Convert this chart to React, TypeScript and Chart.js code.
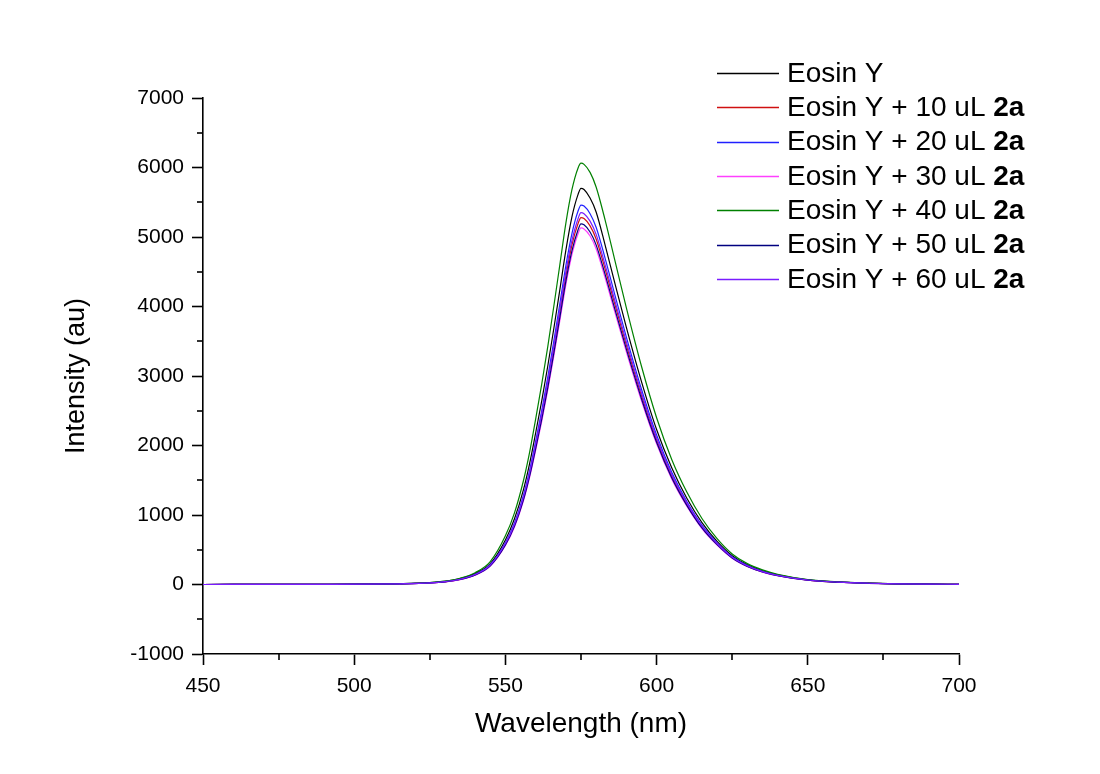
import { useEffect, useRef } from 'react';
import { Chart, registerables } from 'chart.js';
Chart.register(...registerables);

const wavelengths = [450, 470, 490, 505, 515, 525, 530, 535, 540, 545, 550, 553, 556, 558, 560, 562, 564, 566, 568, 570, 572, 574, 575, 576, 578, 580, 583, 586, 590, 595, 600, 605, 610, 615, 620, 625, 630, 635, 640, 650, 660, 670, 680, 690, 700];

const eosinY = [0, 1, 2, 5, 11, 26, 45, 84, 158, 300, 640, 945, 1370, 1740, 2180, 2640, 3140, 3680, 4240, 4810, 5290, 5610, 5700, 5683, 5560, 5360, 4880, 4370, 3700, 2920, 2230, 1680, 1240, 890, 620, 414, 282, 197, 139, 68, 36, 19, 10, 5, 3];
const plus10 = [0, 1, 2, 4, 10, 23, 39, 74, 141, 275, 580, 855, 1245, 1585, 1990, 2415, 2880, 3385, 3910, 4440, 4885, 5190, 5280, 5265, 5160, 4972, 4535, 4062, 3445, 2720, 2082, 1563, 1158, 828, 583, 388, 265, 184, 129, 64, 34, 18, 9, 5, 3];
const plus20 = [0, 1, 2, 4, 10, 24, 41, 77, 146, 285, 600, 885, 1290, 1640, 2060, 2500, 2980, 3500, 4040, 4590, 5050, 5370, 5460, 5445, 5335, 5140, 4690, 4200, 3560, 2810, 2150, 1615, 1195, 855, 600, 398, 273, 189, 133, 66, 35, 18, 9, 5, 3];
const plus30 = [0, 1, 2, 4, 9, 22, 37, 70, 135, 266, 562, 828, 1208, 1540, 1930, 2345, 2795, 3285, 3795, 4315, 4745, 5043, 5130, 5116, 5015, 4832, 4408, 3948, 3348, 2643, 2023, 1519, 1126, 804, 566, 378, 258, 179, 126, 62, 33, 17, 9, 5, 3];
const plus40 = [0, 1, 2, 5, 12, 28, 48, 90, 170, 330, 700, 1030, 1500, 1900, 2380, 2880, 3420, 4000, 4600, 5200, 5680, 5990, 6062, 6045, 5930, 5720, 5240, 4700, 3980, 3140, 2400, 1800, 1330, 950, 660, 440, 300, 210, 148, 72, 38, 20, 10, 5, 3];
const plus50 = [0, 1, 2, 4, 9, 22, 38, 72, 138, 270, 570, 840, 1225, 1560, 1955, 2375, 2830, 3325, 3840, 4365, 4800, 5100, 5190, 5175, 5072, 4887, 4458, 3993, 3386, 2673, 2046, 1536, 1139, 814, 573, 382, 261, 181, 127, 63, 33, 17, 9, 5, 3];
const plus60 = [0, 1, 2, 4, 10, 23, 40, 75, 143, 280, 590, 868, 1265, 1610, 2020, 2450, 2920, 3430, 3960, 4500, 4950, 5260, 5350, 5335, 5228, 5038, 4595, 4115, 3490, 2755, 2108, 1583, 1174, 838, 590, 392, 268, 186, 131, 65, 34, 18, 9, 5, 3];

const seriesLabels = ['Eosin Y', 'Eosin Y + 10 uL ', 'Eosin Y + 20 uL ', 'Eosin Y + 30 uL ', 'Eosin Y + 40 uL ', 'Eosin Y + 50 uL ', 'Eosin Y + 60 uL '];
const boldSuffix = ['', '2a', '2a', '2a', '2a', '2a', '2a'];
const seriesValues = [eosinY, plus10, plus20, plus30, plus40, plus50, plus60];
const seriesColors = ['#000000', '#d01010', '#2020ff', '#ff40ff', '#008000', '#000080', '#7a1cff'];

const xMajorLabels = [450, 500, 550, 600, 650, 700];
const yMajorLabels = [-1000, 0, 1000, 2000, 3000, 4000, 5000, 6000, 7000];
const xMinorTicks = [475, 525, 575, 625, 675];
const yMinorTicks = [-500, 500, 1500, 2500, 3500, 4500, 5500, 6500];

const FONT = "'Liberation Sans', Arial, sans-serif";

const minorTicksPlugin = {
  id: 'minorTicks',
  afterDraw(chart: any) {
    const ctx = chart.ctx;
    const xs = chart.scales.x;
    const ys = chart.scales.y;
    const area = chart.chartArea;
    ctx.save();
    ctx.strokeStyle = '#000';
    ctx.lineWidth = 1.6;
    xMinorTicks.forEach((v) => {
      const px = Math.round(xs.getPixelForValue(v));
      ctx.beginPath();
      ctx.moveTo(px, area.bottom);
      ctx.lineTo(px, area.bottom + 6);
      ctx.stroke();
    });
    yMinorTicks.forEach((v) => {
      const py = Math.round(ys.getPixelForValue(v));
      ctx.beginPath();
      ctx.moveTo(area.left, py);
      ctx.lineTo(area.left - 6, py);
      ctx.stroke();
    });
    ctx.restore();
  },
};

const legendPlugin = {
  id: 'customLegend',
  afterDraw(chart: any) {
    const ctx = chart.ctx;
    ctx.save();
    const lineX0 = 717;
    const lineX1 = 779;
    const textX = 787;
    const rowY0 = 73;
    const rowStep = 34.3;
    chart.data.datasets.forEach((ds: any, i: number) => {
      const y = rowY0 + i * rowStep;
      ctx.strokeStyle = ds.borderColor;
      ctx.lineWidth = 1.3;
      ctx.beginPath();
      ctx.moveTo(lineX0, Math.round(y) + 0.5);
      ctx.lineTo(lineX1, Math.round(y) + 0.5);
      ctx.stroke();
      ctx.fillStyle = '#000';
      ctx.textBaseline = 'middle';
      ctx.font = `28px ${FONT}`;
      ctx.fillText(seriesLabels[i], textX, y + 1);
      const w = ctx.measureText(seriesLabels[i]).width;
      if (boldSuffix[i]) {
        ctx.font = `bold 28px ${FONT}`;
        ctx.fillText(boldSuffix[i], textX + w, y + 1);
      }
    });
    ctx.restore();
  },
};

export default function App() {
  const canvasRef = useRef<HTMLCanvasElement | null>(null);

  useEffect(() => {
    if (!canvasRef.current) return;
    const datasets = seriesValues.map((vals, i) => ({
      label: seriesLabels[i] + boldSuffix[i],
      data: wavelengths.map((w, j) => ({ x: w, y: vals[j] })),
      borderColor: seriesColors[i],
      backgroundColor: seriesColors[i],
      borderWidth: 1.2,
      pointRadius: 0,
      cubicInterpolationMode: 'monotone' as const,
      fill: false,
      order: seriesValues.length - i,
    }));

    const chart = new Chart(canvasRef.current, {
      type: 'line',
      data: { datasets },
      options: {
        animation: false,
        responsive: false,
        maintainAspectRatio: false,
        layout: { padding: { top: 98, right: 141, left: 0, bottom: 0 } },
        plugins: {
          legend: { display: false },
          tooltip: { enabled: false },
        },
        scales: {
          x: {
            type: 'linear',
            min: 450,
            max: 700,
            afterFit: (scale: any) => { scale.height = 120; },
            afterBuildTicks: (scale: any) => {
              scale.ticks = xMajorLabels.map((v) => ({ value: v }));
            },
            ticks: {
              autoSkip: false,
              maxRotation: 0,
              color: '#000',
              padding: 9,
              font: { family: FONT, size: 21 },
              callback: (v: any) => String(v),
            },
            grid: {
              display: true,
              drawOnChartArea: false,
              drawTicks: true,
              tickLength: 11,
              tickColor: '#000',
              tickWidth: 1.6,
            },
            border: { display: true, color: '#000', width: 1.6 },
            title: {
              display: true,
              text: 'Wavelength (nm)',
              color: '#000',
              font: { family: FONT, size: 28 },
              padding: { top: 0, bottom: 33 },
            },
          },
          y: {
            type: 'linear',
            min: -1000,
            max: 7000,
            afterFit: (scale: any) => { scale.width = 203; },
            afterBuildTicks: (scale: any) => {
              scale.ticks = yMajorLabels.map((v) => ({ value: v }));
            },
            ticks: {
              autoSkip: false,
              color: '#000',
              padding: 8,
              font: { family: FONT, size: 21 },
              callback: (v: any) => String(v),
            },
            grid: {
              display: true,
              drawOnChartArea: false,
              drawTicks: true,
              tickLength: 11,
              tickColor: '#000',
              tickWidth: 1.6,
            },
            border: { display: true, color: '#000', width: 1.6 },
            title: {
              display: true,
              text: 'Intensity (au)',
              color: '#000',
              font: { family: FONT, size: 27 },
              padding: { top: 60, bottom: 0 },
            },
          },
        },
      },
      plugins: [minorTicksPlugin, legendPlugin],
    });
    return () => chart.destroy();
  }, []);

  return (
    <div style={{ position: 'absolute', left: 0, top: 0, width: 1100, height: 774, background: '#ffffff' }}>
      <canvas ref={canvasRef} width={1100} height={774} style={{ width: 1100, height: 774, display: 'block' }} />
    </div>
  );
}
